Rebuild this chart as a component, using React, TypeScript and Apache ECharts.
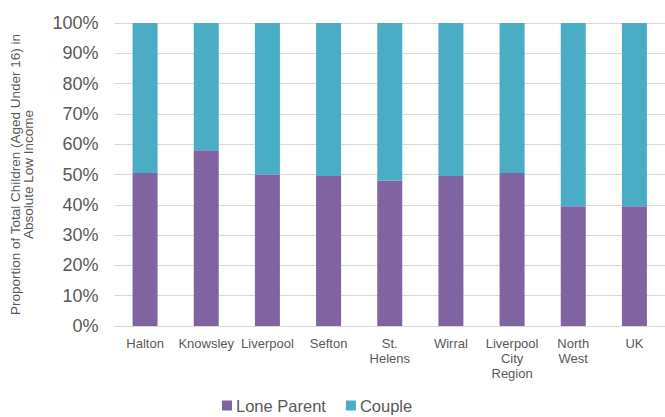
import React, { useEffect, useRef } from "react";
import * as echarts from "echarts";

const categories = [
  "Halton",
  "Knowsley",
  "Liverpool",
  "Sefton",
  "St.\nHelens",
  "Wirral",
  "Liverpool\nCity\nRegion",
  "North\nWest",
  "UK",
];
const loneParent = [50.5, 58, 50, 49.5, 48, 49.5, 50.5, 39.5, 39.5];
const couple = loneParent.map((v) => Math.round((100 - v) * 10) / 10);

export default function App() {
  const ref = useRef<HTMLDivElement>(null);
  useEffect(() => {
    const chart = echarts.init(ref.current!, undefined, { renderer: "svg" });
    const font = "Liberation Sans, Arial, sans-serif";
    chart.setOption({
      animation: false,
      textStyle: { fontFamily: font },
      grid: { left: 109, right: 0, top: 23, bottom: 91, containLabel: false },
      legend: {
        left: 222,
        top: 397,
        itemWidth: 10,
        itemHeight: 10,
        itemGap: 20,
        icon: "rect",
        padding: 0,
        textStyle: { fontSize: 16.5, color: "#595959", fontFamily: font, padding: [0, 0, 0, -1] },
        data: ["Lone Parent", "Couple"],
      },
      xAxis: {
        type: "category",
        data: categories,
        axisLine: { lineStyle: { color: "#d9d9d9" } },
        axisTick: { show: false },
        axisLabel: {
          interval: 0,
          color: "#595959",
          fontSize: 13,
          lineHeight: 15,
          margin: 10,
          fontFamily: font,
        },
      },
      yAxis: {
        type: "value",
        min: 0,
        max: 100,
        interval: 10,
        name: "Proportion of Total Children (Aged Under 16) in\nAbsolute Low Income",
        nameLocation: "middle",
        nameGap: 80,
        nameRotate: 90,
        nameTextStyle: { color: "#595959", fontSize: 13.5, lineHeight: 13, fontFamily: font },
        axisLabel: {
          formatter: "{value}%",
          color: "#595959",
          fontSize: 18,
          margin: 16,
          fontFamily: font,
        },
        splitLine: { lineStyle: { color: "#d9d9d9" } },
        axisLine: { show: false },
        axisTick: { show: false },
      },
      series: [
        {
          name: "Lone Parent",
          type: "bar",
          stack: "total",
          data: loneParent,
          barWidth: 25,
          itemStyle: { color: "#8064A2" },
        },
        {
          name: "Couple",
          type: "bar",
          stack: "total",
          data: couple,
          barWidth: 25,
          itemStyle: { color: "#4BACC6" },
        },
      ],
    });
    return () => chart.dispose();
  }, []);
  return (
    <div
      ref={ref}
      style={{ position: "absolute", left: 0, top: 0, width: 665, height: 417 }}
    />
  );
}
